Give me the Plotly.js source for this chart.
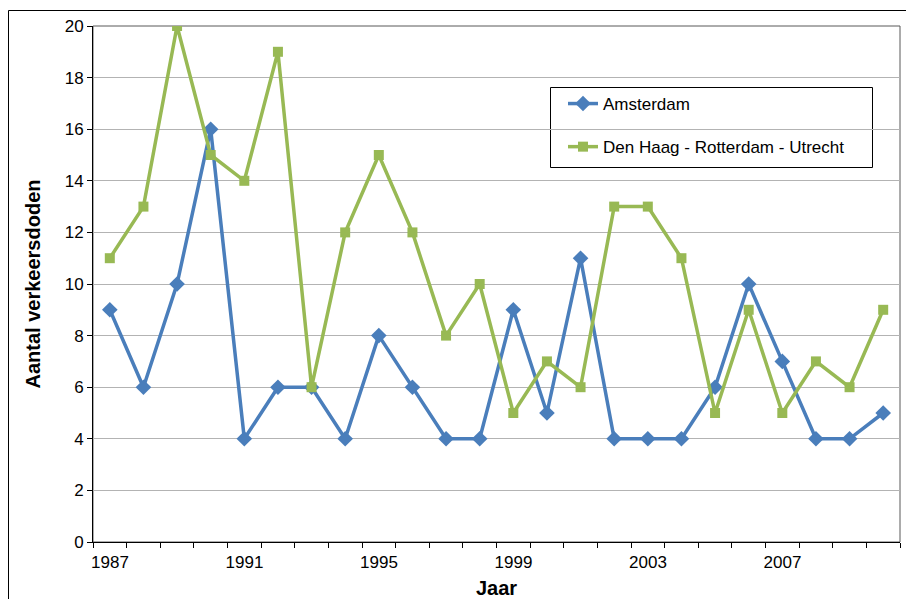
<!DOCTYPE html>
<html>
<head>
<meta charset="utf-8">
<script src="https://cdn.plot.ly/plotly-3.0.1.min.js"></script>
<style>
  html, body { margin: 0; padding: 0; background: #ffffff; }
  #chart { width: 906px; height: 599px; }
</style>
</head>
<body>
<div id="chart"></div>
<script>
const years = [1987,1988,1989,1990,1991,1992,1993,1994,1995,1996,1997,1998,1999,2000,2001,2002,2003,2004,2005,2006,2007,2008,2009,2010];
const amsterdam = [9,6,10,16,4,6,6,4,8,6,4,4,9,5,11,4,4,4,6,10,7,4,4,5];
const denHaagRotterdamUtrecht = [11,13,20,15,14,19,6,12,15,12,8,10,5,7,6,13,13,11,5,9,5,7,6,9];
const xTickLabels = ['1987','1991','1995','1999','2003','2007'];
const xTickVals = [1987,1991,1995,1999,2003,2007];
const yTickVals = [0,2,4,6,8,10,12,14,16,18,20];

const W = 906, H = 599;
const L = 93, R = 6, T = 26, B = 57;
const pw = W - L - R, ph = H - T - B;
const px = x => (x - L) / pw;
const py = y => (H - B - y) / ph;

const font = 'Liberation Sans, Arial, sans-serif';
const xRange = [years[0] - 0.5, years[years.length - 1] + 0.5];
// tick marks sit on the category boundaries; labels are shifted half a category to sit under the points
const boundaries = years.map(y => y - 0.5).concat([years[years.length - 1] + 0.5]);
const boundaryText = boundaries.map(b => {
  const i = xTickVals.indexOf(b + 0.5);
  return i >= 0 ? xTickLabels[i] : '';
});
const halfCategoryPx = Math.round(pw / (xRange[1] - xRange[0]) / 2);

const traces = [
  {
    x: years, y: amsterdam, name: 'Amsterdam', type: 'scatter', mode: 'lines+markers',
    line: {color: '#4a7ebb', width: 3.5},
    marker: {symbol: 'diamond', size: 12, color: '#4a7ebb'},
    legendgroup: 'a'
  },
  {
    x: years, y: denHaagRotterdamUtrecht, name: 'Den Haag - Rotterdam - Utrecht', type: 'scatter', mode: 'lines+markers',
    line: {color: '#98b954', width: 3.5},
    marker: {symbol: 'square', size: 10, color: '#98b954'},
    legendgroup: 'b'
  }
];

const layout = {
  width: W, height: H,
  margin: {l: L, r: R, t: T, b: B},
  paper_bgcolor: '#ffffff', plot_bgcolor: '#ffffff',
  font: {family: font, size: 17, color: '#000000'},
  showlegend: true,
  legend: {
    x: px(563), y: py(86), xanchor: 'left', yanchor: 'top',
    bgcolor: 'rgba(0,0,0,0)', borderwidth: 0,
    font: {family: font, size: 17, color: '#000000'},
    tracegroupgap: 18, traceorder: 'grouped'
  },
  xaxis: {
    range: xRange,
    tickmode: 'array', tickvals: boundaries, ticktext: boundaryText,
    ticklabelshift: halfCategoryPx,
    ticks: 'outside', ticklen: 5, tickcolor: '#000000', tickwidth: 1,
    showgrid: false, zeroline: false,
    showline: true, linecolor: '#000000', linewidth: 1,
    tickfont: {family: font, size: 17, color: '#000000'},
    title: {text: '<b>Jaar</b>', font: {family: font, size: 20, color: '#000000'}, standoff: 18}
  },
  yaxis: {
    range: [0, 20],
    tickmode: 'array', tickvals: yTickVals,
    ticks: 'outside', ticklen: 5, tickcolor: '#000000', tickwidth: 1,
    showgrid: true, gridcolor: '#b3b3b3', gridwidth: 1, zeroline: false,
    showline: true, linecolor: '#000000', linewidth: 1,
    tickfont: {family: font, size: 17, color: '#000000'},
    title: {text: '<b>Aantal verkeersdoden</b>', font: {family: font, size: 20, color: '#000000'}, standoff: 18}
  },
  shapes: [
    {type: 'rect', xref: 'paper', yref: 'paper', x0: 0, x1: 1, y0: 0, y1: 1,
     line: {color: '#595959', width: 1}, fillcolor: 'rgba(0,0,0,0)', layer: 'below'},
    {type: 'rect', xref: 'paper', yref: 'paper', x0: px(8.5), x1: px(915), y0: py(620), y1: py(10.5),
     line: {color: '#000000', width: 1}, fillcolor: 'rgba(0,0,0,0)'},
    {type: 'rect', xref: 'paper', yref: 'paper', x0: px(550.5), x1: px(872.5), y0: py(167.5), y1: py(87.5),
     line: {color: '#000000', width: 1}, fillcolor: '#ffffff', layer: 'below'}
  ]
};

Plotly.newPlot('chart', traces, layout, {displayModeBar: false, staticPlot: true});
</script>
</body>
</html>
